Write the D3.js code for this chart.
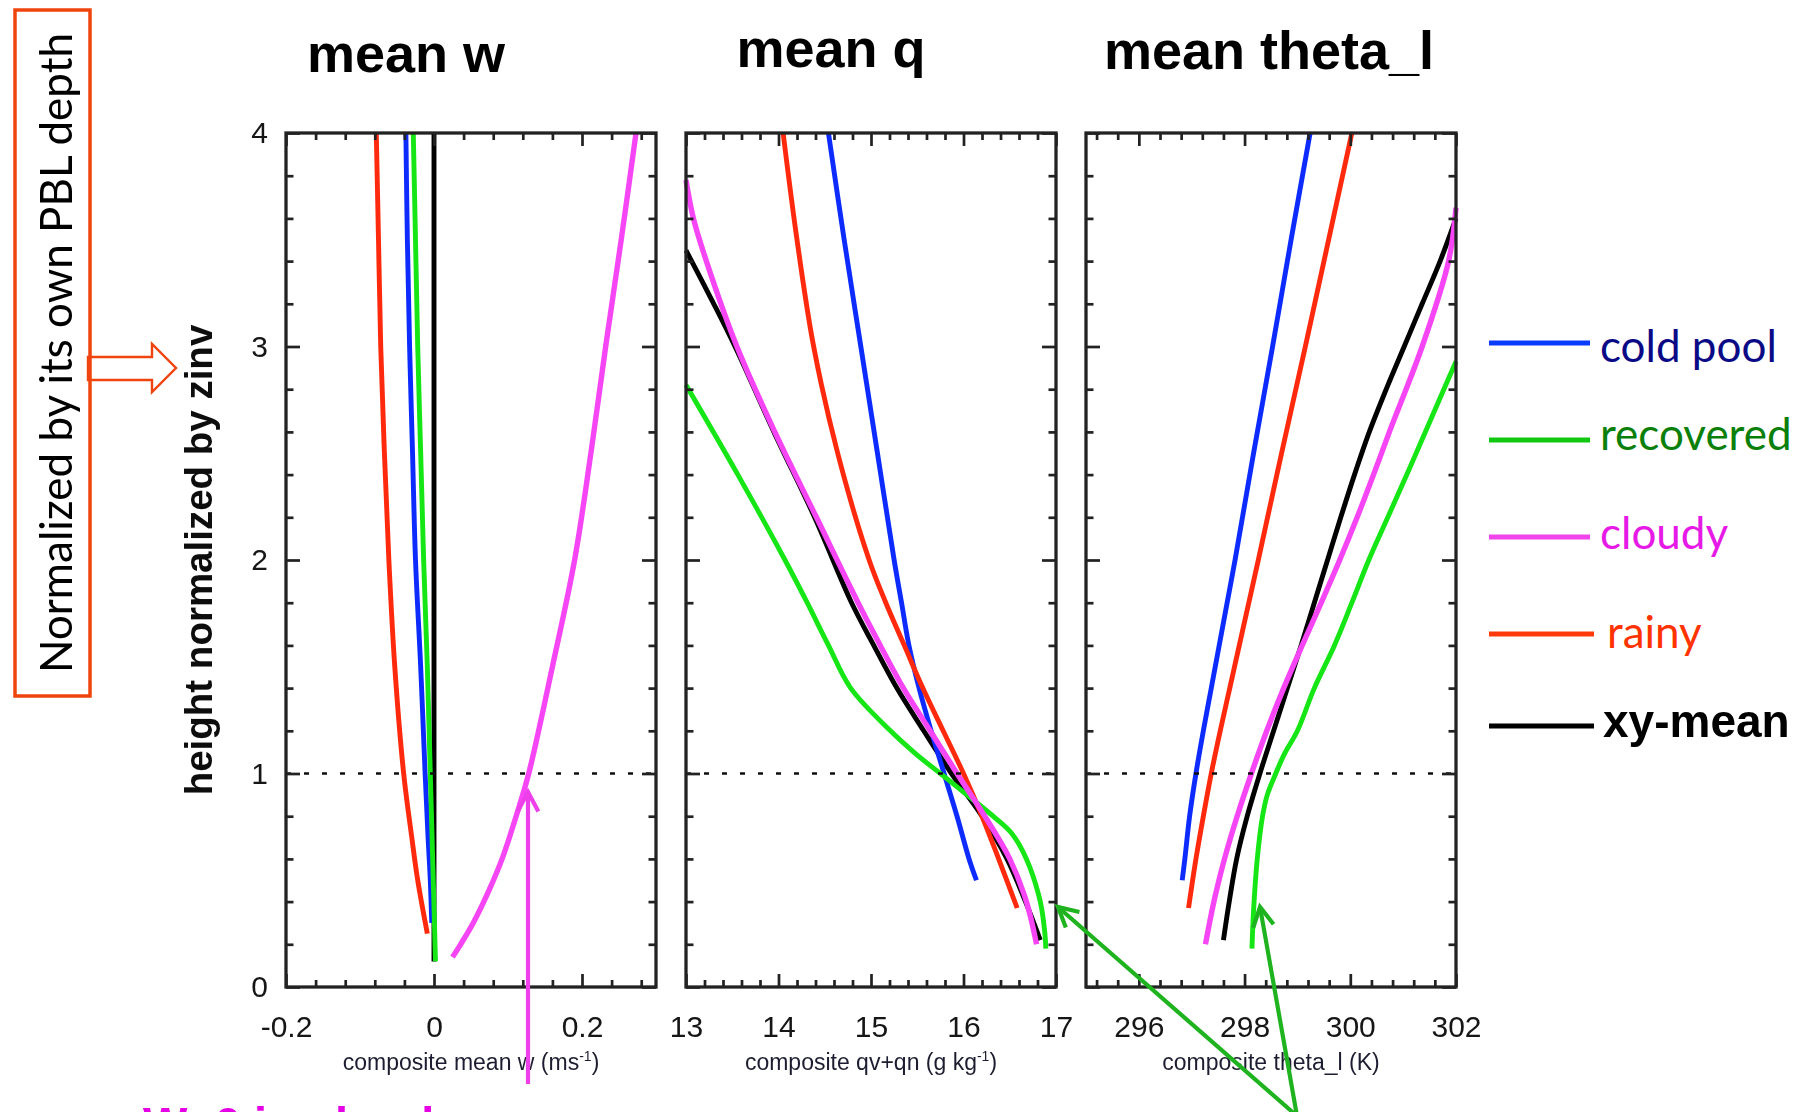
<!DOCTYPE html>
<html>
<head>
<meta charset="utf-8">
<script src="https://cdn.jsdelivr.net/npm/d3@7"></script>
<style>
  html, body { margin: 0; padding: 0; background: #fff; }
  svg { display: block; }
</style>
</head>
<body>
<svg id="chart" width="1817" height="1112"></svg>
<script>
// ---------------- data ----------------
const groupNames  = ["cold pool", "recovered", "cloudy", "rainy", "xy-mean"];
const panelTitles = ["mean w", "mean q", "mean theta_l"];

// axis titles: main text, superscript, closing text
const xTitleMain = ["composite mean w (ms", "composite qv+qn (g kg", "composite theta_l (K)"];
const xTitleSup  = ["-1", "-1", ""];
const xTitleTail = [")", ")", ""];

// height axis (normalized by zinv)
const heightDomain = [0, 4];
const heightTicks  = [0, 1, 2, 3, 4];
const heightMinorStep = 0.2;
const inversionLevel = 1;

// x axes
const wDomain = [-0.2, 0.3];
const wTicks  = [-0.2, 0, 0.2];
const wTickLabels = ["-0.2", "0", "0.2"];
const wMinorStep = 0.04;

const qDomain = [13, 17];
const qTicks  = [13, 14, 15, 16, 17];
const qTickLabels = ["13", "14", "15", "16", "17"];
const qMinorStep = 0.2;

const thDomain = [295, 302];
const thTicks  = [296, 298, 300, 302];
const thTickLabels = ["296", "298", "300", "302"];
const thMinorStep = 0.4;

// profiles: [height / zinv, value]
// mean w (m/s)
const wColdPool  = [[4,-0.038],[3.5,-0.036],[3,-0.033],[2.5,-0.029],[2,-0.025],[1.5,-0.018],[1,-0.012],[0.7,-0.008],[0.5,-0.005],[0.3,-0.003]];
const wRecovered = [[4,-0.028],[3.5,-0.025],[3,-0.022],[2.5,-0.018],[2,-0.014],[1.5,-0.009],[1,-0.005],[0.5,-0.001],[0.12,0.002]];
const wCloudy    = [[4,0.273],[3.5,0.253],[3,0.232],[2.5,0.212],[2,0.19],[1.5,0.16],[1,0.128],[0.8,0.111],[0.6,0.092],[0.45,0.074],[0.3,0.053],[0.2,0.036],[0.14,0.025]];
const wRainy     = [[4,-0.078],[3.5,-0.075],[3,-0.072],[2.5,-0.067],[2,-0.061],[1.5,-0.053],[1,-0.041],[0.7,-0.030],[0.5,-0.022],[0.25,-0.009]];
const wXyMean    = [[4,0],[2,0],[1,0],[0.12,0]];

// mean qv+qn (g/kg)
const qColdPool  = [[4,14.54],[3.5,14.71],[3,14.89],[2.5,15.07],[2,15.25],[1.8,15.33],[1.6,15.41],[1.4,15.52],[1.2,15.65],[1,15.79],[0.8,15.93],[0.6,16.06],[0.5,16.14]];
const qRecovered = [[2.82,13.0],[2.4,13.56],[2,14.07],[1.8,14.31],[1.6,14.54],[1.4,14.78],[1.2,15.21],[1.09,15.49],[1,15.75],[0.92,15.98],[0.8,16.32],[0.72,16.52],[0.6,16.68],[0.4,16.83],[0.25,16.88],[0.18,16.89]];
const qCloudy    = [[3.78,13.0],[3.6,13.08],[3.4,13.22],[3,13.55],[2.6,13.96],[2.2,14.41],[1.8,14.86],[1.6,15.10],[1.4,15.35],[1.2,15.64],[1,15.93],[0.8,16.23],[0.6,16.50],[0.4,16.68],[0.2,16.79]];
const qRainy     = [[4,14.05],[3.5,14.2],[3,14.38],[2.5,14.64],[2,14.98],[1.8,15.16],[1.6,15.36],[1.4,15.56],[1.2,15.78],[1,16.0],[0.8,16.2],[0.6,16.38],[0.37,16.58]];
const qXyMean    = [[3.45,13.0],[3.2,13.30],[3,13.53],[2.6,13.95],[2.2,14.39],[1.8,14.79],[1.6,15.03],[1.4,15.28],[1.2,15.57],[1,15.87],[0.8,16.2],[0.6,16.47],[0.4,16.67],[0.22,16.83]];

// mean theta_l (K)
const thColdPool  = [[4,299.24],[3.5,298.88],[3,298.53],[2.5,298.17],[2,297.82],[1.8,297.67],[1.6,297.52],[1.4,297.37],[1.2,297.22],[1,297.08],[0.8,296.96],[0.6,296.87],[0.5,296.82]];
const thRecovered = [[2.93,302.0],[2.6,301.42],[2.4,301.07],[2.2,300.71],[2,300.35],[1.8,300.03],[1.6,299.70],[1.4,299.32],[1.2,299.0],[1.09,298.75],[1,298.59],[0.9,298.43],[0.8,298.34],[0.6,298.24],[0.4,298.18],[0.25,298.15],[0.18,298.14]];
const thCloudy    = [[3.65,302.0],[3.4,301.86],[3,301.36],[2.6,300.74],[2.4,300.44],[2.2,300.13],[2,299.80],[1.8,299.45],[1.6,299.09],[1.4,298.74],[1.2,298.42],[1,298.13],[0.8,297.86],[0.6,297.62],[0.4,297.42],[0.2,297.26]];
const thRainy     = [[4,300.03],[3.5,299.59],[3,299.15],[2.5,298.70],[2,298.26],[1.8,298.08],[1.6,297.90],[1.4,297.72],[1.2,297.54],[1,297.37],[0.8,297.22],[0.6,297.08],[0.37,296.94]];
const thXyMean    = [[3.6,302.0],[3.4,301.70],[3.2,301.36],[3,301.02],[2.8,300.68],[2.6,300.36],[2.4,300.08],[2.2,299.82],[2,299.57],[1.8,299.32],[1.6,299.07],[1.4,298.81],[1.2,298.55],[1,298.29],[0.8,298.05],[0.6,297.85],[0.4,297.71],[0.22,297.60]];

// ---------------- styling ----------------
const seriesColor = {
  "cold pool": "#0a2cff",
  "recovered": "#14e614",
  "cloudy":    "#f545f5",
  "rainy":     "#ff2a0c",
  "xy-mean":   "#000000"
};
const legendLineColor = {
  "cold pool": "#0a3cff",
  "recovered": "#10c810",
  "cloudy":    "#f045ea",
  "rainy":     "#ff3a0a",
  "xy-mean":   "#000000"
};
const legendTextColor = {
  "cold pool": "#0a0a86",
  "recovered": "#0a7f0a",
  "cloudy":    "#e619e6",
  "rainy":     "#ff3300",
  "xy-mean":   "#000000"
};
const drawOrder = ["xy-mean", "cold pool", "rainy", "recovered", "cloudy"];

const svg = d3.select("#chart");
const defs = svg.append("defs");
defs.append("filter").attr("id", "shadow").attr("x", "-20%").attr("y", "-50%").attr("width", "140%").attr("height", "200%")
  .append("feGaussianBlur").attr("stdDeviation", 1.6);
defs.append("filter").attr("id", "soft")
  .append("feGaussianBlur").attr("stdDeviation", 0.55);

const TOP = 133, BOTTOM = 987;
const y = d3.scaleLinear().domain(heightDomain).range([BOTTOM, TOP]);

function stepValues(domain, step) {
  const a = Math.ceil(domain[0] / step - 1e-9), b = Math.floor(domain[1] / step + 1e-9);
  return d3.range(a, b + 1).map(i => +(i * step).toFixed(6));
}

const panels = [
  { title: panelTitles[0], titleX: 406, titleY: 72, x0: 286, x1: 656, domain: wDomain, ticks: wTicks, labels: wTickLabels, minor: wMinorStep,
    series: { "cold pool": wColdPool, "recovered": wRecovered, "cloudy": wCloudy, "rainy": wRainy, "xy-mean": wXyMean }, yLabels: true },
  { title: panelTitles[1], titleX: 831, titleY: 67, x0: 686, x1: 1056, domain: qDomain, ticks: qTicks, labels: qTickLabels, minor: qMinorStep,
    series: { "cold pool": qColdPool, "recovered": qRecovered, "cloudy": qCloudy, "rainy": qRainy, "xy-mean": qXyMean }, yLabels: false },
  { title: panelTitles[2], titleX: 1269, titleY: 69, x0: 1086, x1: 1456, domain: thDomain, ticks: thTicks, labels: thTickLabels, minor: thMinorStep,
    series: { "cold pool": thColdPool, "recovered": thRecovered, "cloudy": thCloudy, "rainy": thRainy, "xy-mean": thXyMean }, yLabels: false }
];

const plotLayer = svg.append("g").attr("filter", "url(#soft)");

panels.forEach((p, i) => {
  const x = d3.scaleLinear().domain(p.domain).range([p.x0, p.x1]);
  const g = plotLayer.append("g");
  const minorX = stepValues(p.domain, p.minor).filter(v => !p.ticks.some(t => Math.abs(t - v) < 1e-6));
  const minorY = stepValues(heightDomain, heightMinorStep).filter(v => !heightTicks.includes(v));

  // profiles
  const line = d3.line()
    .x(d => x(d[1]))
    .y(d => y(d[0]))
    .curve(d3.curveCatmullRom.alpha(0.5));
  drawOrder.forEach(name => {
    g.append("path")
      .datum(p.series[name])
      .attr("d", line)
      .attr("fill", "none")
      .attr("stroke", seriesColor[name])
      .attr("stroke-width", name === "cloudy" ? 5.4 : 4.9)
      .attr("stroke-linecap", "butt")
      .attr("stroke-linejoin", "round");
  });

  // inversion level
  g.append("line")
    .attr("x1", p.x0).attr("x2", p.x1)
    .attr("y1", y(inversionLevel)).attr("y2", y(inversionLevel))
    .attr("stroke", "#111").attr("stroke-width", 2.6)
    .attr("stroke-dasharray", "5,13");

  // ticks on all four sides, pointing inward
  const tickStyle = sel => {
    sel.select(".domain").remove();
    sel.selectAll("line").attr("stroke", "#222").attr("stroke-width", 2.7);
    sel.selectAll("text").remove();
  };
  const axes = [
    [d3.axisBottom(x).tickValues(p.ticks).tickSize(-13), `translate(0,${BOTTOM})`],
    [d3.axisBottom(x).tickValues(minorX).tickSize(-7),   `translate(0,${BOTTOM})`],
    [d3.axisTop(x).tickValues(p.ticks).tickSize(-13),    `translate(0,${TOP})`],
    [d3.axisTop(x).tickValues(minorX).tickSize(-7),      `translate(0,${TOP})`],
    [d3.axisLeft(y).tickValues(heightTicks).tickSize(-14), `translate(${p.x0},0)`],
    [d3.axisLeft(y).tickValues(minorY).tickSize(-7.5),     `translate(${p.x0},0)`],
    [d3.axisRight(y).tickValues(heightTicks).tickSize(-14), `translate(${p.x1},0)`],
    [d3.axisRight(y).tickValues(minorY).tickSize(-7.5),     `translate(${p.x1},0)`]
  ];
  axes.forEach(([ax, tr]) => g.append("g").attr("transform", tr).call(ax).call(tickStyle));

  // frame
  g.append("rect")
    .attr("x", p.x0).attr("y", TOP)
    .attr("width", p.x1 - p.x0).attr("height", BOTTOM - TOP)
    .attr("fill", "none").attr("stroke", "#222").attr("stroke-width", 3.3);

  // x tick labels
  const xl = g.append("g").attr("transform", `translate(0,${BOTTOM})`)
    .call(d3.axisBottom(x).tickValues(p.ticks).tickSize(0).tickPadding(29)
      .tickFormat((d, k) => p.labels[k]));
  xl.select(".domain").remove();
  xl.selectAll("text")
    .attr("font-family", "'Liberation Sans', Arial, Helvetica, sans-serif")
    .attr("font-size", 30).attr("fill", "#141414");

  // y tick labels (first panel only)
  if (p.yLabels) {
    const yl = g.append("g").attr("transform", `translate(${p.x0},0)`)
      .call(d3.axisLeft(y).tickValues(heightTicks).tickSize(0).tickPadding(18).tickFormat(d3.format("d")));
    yl.select(".domain").remove();
    yl.selectAll("text")
      .attr("font-family", "'Liberation Sans', Arial, Helvetica, sans-serif")
      .attr("font-size", 30).attr("fill", "#141414");
  }

  // x axis title
  const t = g.append("text")
    .attr("x", (p.x0 + p.x1) / 2).attr("y", 1070)
    .attr("text-anchor", "middle")
    .attr("font-family", "'Liberation Sans', Arial, Helvetica, sans-serif")
    .attr("font-size", 23).attr("fill", "#1e1e30");
  t.append("tspan").text(xTitleMain[i]);
  if (xTitleSup[i]) t.append("tspan").attr("dy", -9).attr("font-size", 14).text(xTitleSup[i]);
  if (xTitleTail[i]) t.append("tspan").attr("dy", xTitleSup[i] ? 9 : 0).text(xTitleTail[i]);

  // panel title
  svg.append("text")
    .attr("x", p.titleX).attr("y", p.titleY)
    .attr("text-anchor", "middle")
    .attr("font-family", "'Liberation Sans', Arial, Helvetica, sans-serif")
    .attr("font-weight", "bold").attr("font-size", 54).attr("fill", "#000")
    .text(p.title);
});

// height axis title
plotLayer.append("text")
  .attr("transform", "translate(212,560) rotate(-90)")
  .attr("text-anchor", "middle")
  .attr("font-family", "'Liberation Sans', Arial, Helvetica, sans-serif")
  .attr("font-weight", "bold").attr("font-size", 38.5).attr("fill", "#111")
  .text("height normalized by zinv");

// ---------------- legend ----------------
const legendRows = [
  { name: "cold pool", ly: 343, tx: 1600, ty: 362, x2: 1590 },
  { name: "recovered", ly: 440, tx: 1600, ty: 450, x2: 1590 },
  { name: "cloudy",    ly: 537, tx: 1600, ty: 549, x2: 1590 },
  { name: "rainy",     ly: 634, tx: 1607, ty: 648, x2: 1594 },
  { name: "xy-mean",   ly: 726, tx: 1603, ty: 737, x2: 1594 }
];
const legend = svg.append("g");
legendRows.forEach(r => {
  legend.append("line")
    .attr("x1", 1491).attr("x2", r.x2 + 1).attr("y1", r.ly + 4).attr("y2", r.ly + 4)
    .attr("stroke", "#777").attr("stroke-width", 4.5).attr("opacity", 0.55)
    .attr("filter", "url(#shadow)");
  legend.append("line")
    .attr("x1", 1489).attr("x2", r.x2).attr("y1", r.ly).attr("y2", r.ly)
    .attr("stroke", legendLineColor[r.name])
    .attr("stroke-width", 4.8);
  const bold = r.name === "xy-mean";
  legend.append("text")
    .attr("x", r.tx).attr("y", r.ty)
    .attr("font-family", bold ? "'Liberation Sans', Arial, sans-serif" : "Lato, 'Open Sans', sans-serif")
    .attr("font-weight", bold ? "bold" : "normal")
    .attr("font-size", bold ? 46 : 44)
    .attr("fill", legendTextColor[r.name])
    .text(r.name);
});

// ---------------- annotations ----------------
const ann = svg.append("g");

// boxed note on the left
ann.append("rect")
  .attr("x", 15).attr("y", 10).attr("width", 75).attr("height", 686)
  .attr("fill", "none").attr("stroke", "#f0440f").attr("stroke-width", 3.5);
ann.append("text")
  .attr("transform", "translate(72,353) rotate(-90)")
  .attr("text-anchor", "middle")
  .attr("font-family", "Lato, 'Open Sans', sans-serif")
  .attr("font-size", 44).attr("fill", "#000")
  .text("Normalized by its own PBL depth");

// hollow block arrow
ann.append("path")
  .attr("d", "M88,357 L152,357 L152,344 L176,368 L152,392 L152,380 L88,380 Z")
  .attr("fill", "none").attr("stroke", "#f0440f").attr("stroke-width", 2.4)
  .attr("stroke-linejoin", "miter");

function arrow(g, from, to, color) {
  const dx = to[0] - from[0], dy = to[1] - from[1];
  const len = Math.hypot(dx, dy);
  const bx = -dx / len, by = -dy / len;
  const a = 28 * Math.PI / 180, L = 22;
  const arm = s => [to[0] + L * (bx * Math.cos(a) - s * by * Math.sin(a)),
                    to[1] + L * (s * bx * Math.sin(a) + by * Math.cos(a))];
  g.append("line").attr("x1", from[0]).attr("y1", from[1]).attr("x2", to[0]).attr("y2", to[1])
    .attr("stroke", color).attr("stroke-width", 4.2);
  const p1 = arm(1), p2 = arm(-1);
  g.append("path").attr("d", `M${p1[0]},${p1[1]} L${to[0]},${to[1]} L${p2[0]},${p2[1]}`)
    .attr("fill", "none").attr("stroke", color).attr("stroke-width", 4.2)
    .attr("stroke-linejoin", "miter").attr("stroke-linecap", "butt");
}

// cloudy updraft note (runs off the lower edge)
arrow(ann, [528, 1084], [528, 792], "#ee40ea");
ann.append("text")
  .attr("x", 143).attr("y", 1140)
  .attr("font-family", "'Liberation Sans', Arial, sans-serif")
  .attr("font-weight", "bold").attr("font-size", 47).attr("fill", "#e600e6")
  .text("W>0 in cloudy");

// recovered near-surface note
arrow(ann, [1297, 1116], [1058, 907], "#1fb41f");
arrow(ann, [1297, 1116], [1260, 907], "#1fb41f");
</script>
</body>
</html>
